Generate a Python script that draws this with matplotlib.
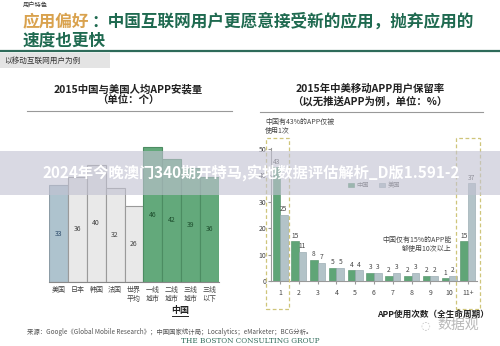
import matplotlib
matplotlib.use("Agg")
import matplotlib.pyplot as plt
from matplotlib.patches import Rectangle

plt.rcParams['font.family'] = ['Noto Sans CJK SC', 'DejaVu Sans']

# ---- data ----
left_cats = ['美国', '日本', '韩国', '法国', '世界\n平均', '一线\n城市', '二线\n城市', '三线\n城市', '三线\n以下']
left_vals = [33, 36, 40, 32, 26, 46, 42, 39, 36]
left_groups = ['us', 'other', 'other', 'other', 'other', 'cn', 'cn', 'cn', 'cn']

right_cats = ['1', '2', '3', '4', '5', '6', '7', '8', '9', '10', '11+']
china_vals = [43, 15, 8, 5, 4, 3, 2, 2, 2, 1, 15]
us_vals = [25, 11, 7, 5, 4, 3, 3, 3, 2, 2, 37]
right_yticks = [0, 10, 20, 30, 40, 50]

W, H = 500, 346
fig = plt.figure(figsize=(W / 100, H / 100), dpi=100)
fig.patch.set_facecolor('white')


def fx(x):
    return x / W


def fy(y):
    return 1 - y / H


def T(x, y, s, **kw):
    kw.setdefault('va', 'center')
    return fig.text(fx(x), fy(y), s, **kw)


def R(x0, y0, x1, y1, **kw):
    r = Rectangle((fx(x0), fy(y1)), fx(x1) - fx(x0), fy(y0) - fy(y1),
                  transform=fig.transFigure, **kw)
    fig.add_artist(r)
    return r


# ---- header ----
T(23, 6, '用户特色', fontsize=4.5, color='#333333')
T(23, 22, '应用偏好', fontsize=12, fontweight='bold', color='#d9a24e')
T(91, 22, '：中国互联网用户更愿意接受新的应用，抛弃应用的', fontsize=12,
  fontweight='bold', color='#1f6a50')
T(23, 41, '速度也更快', fontsize=12, fontweight='bold', color='#1f6a50')
fig.add_artist(plt.Line2D([0, 1], [fy(51), fy(51)], transform=fig.transFigure,
                          color='#2e6b5a', lw=1.6))
R(0, 53, 110, 68, facecolor='#e4e4e4', edgecolor='none')
T(4, 60.5, '以移动互联网用户为例', fontsize=5.5, style='italic', color='#333333')

# ---- left chart ----
T(128, 89, '2015中国与美国人均APP安装量', fontsize=7.5, fontweight='bold',
  ha='center', color='#222222')
T(128, 101, '（单位：个）', fontsize=7.5, fontweight='bold', ha='center', color='#222222')
fig.add_artist(plt.Line2D([fx(27), fx(232)], [fy(111), fy(111)],
                          transform=fig.transFigure, color='#999999', lw=0.8))

axL = fig.add_axes([fx(49), fy(282), (219 - 49) / W, 146.5 / H])
colors = {'us': '#aec3ce', 'other': '#e9e9e9', 'cn': '#63a97b'}
edges = {'us': '#8c9ca6', 'other': '#9a9a9a', 'cn': '#4c8c62'}
tcol = {'us': '#2b4a6a', 'other': '#444444', 'cn': '#1e4f2e'}
xs = list(range(len(left_vals)))
axL.bar(xs, left_vals, width=1.0,
        color=[colors[g] for g in left_groups],
        edgecolor=[edges[g] for g in left_groups], linewidth=0.8)
for x, v, g in zip(xs, left_vals, left_groups):
    axL.text(x, v / 2, str(v), ha='center', va='center', fontsize=5, color=tcol[g])
axL.set_xlim(-0.5, len(left_vals) - 0.5)
axL.set_ylim(0, 50)
axL.set_xticks(xs)
axL.set_xticklabels(left_cats, fontsize=5, color='#444444', linespacing=1.1)
axL.tick_params(axis='x', length=0, pad=3)
axL.set_yticks([])
for s in ['top', 'right', 'left']:
    axL.spines[s].set_visible(False)
axL.spines['bottom'].set_color('#888888')
axL.patch.set_alpha(0)
T(180, 311, '中国', fontsize=6.5, fontweight='bold', ha='center', color='#222222')
fig.add_artist(plt.Line2D([fx(172), fx(188)], [fy(316), fy(316)],
                          transform=fig.transFigure, color='#222222', lw=0.7))

# ---- right chart ----
T(370, 89, '2015年中美移动APP用户保留率', fontsize=7.5, fontweight='bold',
  ha='center', color='#222222')
T(370, 101, '（以无推送APP为例，单位：%）', fontsize=7.5, fontweight='bold',
  ha='center', color='#222222')
fig.add_artist(plt.Line2D([fx(260), fx(483)], [fy(112), fy(112)],
                          transform=fig.transFigure, color='#999999', lw=0.8))

axR = fig.add_axes([fx(271), fy(281), 206 / W, 133.3 / H])
rx = list(range(len(right_cats)))
bw = 0.4
axR.bar([x - bw / 2 for x in rx], china_vals, width=bw, color='#5fa577',
        edgecolor='#4c8c62', linewidth=0.4, label='中国')
axR.bar([x + bw / 2 for x in rx], us_vals, width=bw, color='#b3c3c8',
        edgecolor='#8fa2a8', linewidth=0.4, label='美国')
for x, c, u in zip(rx, china_vals, us_vals):
    axR.text(x - bw / 2, c + 0.6, str(c), ha='center', va='bottom', fontsize=4.8, color='#444444')
    axR.text(x + bw / 2, u + 0.6, str(u), ha='center', va='bottom', fontsize=4.8, color='#444444')
axR.set_xlim(-0.48, len(right_cats) - 0.52)
axR.set_ylim(0, 50.5)
axR.set_xticks(rx)
axR.set_xticklabels(right_cats, fontsize=5, color='#444444')
axR.tick_params(axis='x', length=2, color='#999999', pad=4)
axR.set_yticks(right_yticks)
axR.set_yticklabels([str(t) for t in right_yticks], fontsize=5, color='#444444')
axR.tick_params(axis='y', length=2, color='#999999', pad=1.5)
for s in ['top', 'right']:
    axR.spines[s].set_visible(False)
axR.spines['left'].set_color('#999999')
axR.spines['bottom'].set_color('#999999')
axR.patch.set_alpha(0)
leg = axR.legend(loc='upper center', bbox_to_anchor=(0.5, 0.79), ncol=2, fontsize=4.5,
                 frameon=False, handlelength=1.0, handleheight=0.5, columnspacing=1.5,
                 handletextpad=0.4)
for t in leg.get_texts():
    t.set_color('#555555')

# dashed highlight boxes
R(266, 138, 289, 309, fill=False, edgecolor='#cfc57a', linestyle=(0, (3, 2)), lw=0.9)
R(456, 138, 480, 309, fill=False, edgecolor='#cfc57a', linestyle=(0, (3, 2)), lw=0.9)

T(265, 122, '中国有43%的APP仅被', fontsize=5, style='italic', color='#444444')
T(265, 131, '使用1次', fontsize=5, style='italic', color='#444444')
T(452, 240, '中国仅有15%的APP能', fontsize=5, style='italic', color='#444444', ha='right')
T(452, 249, '够使用10次以上', fontsize=5, style='italic', color='#444444', ha='right')
T(377, 314, 'APP使用次数（全生命周期）', fontsize=6.2, fontweight='bold', color='#222222')

# ---- footer ----
T(27, 332, '来源：Google《Global Mobile Research》；中国国家统计局；Localytics；eMarketer；BCG分析。',
  fontsize=4.6, color='#555555')
T(250, 341, 'THE BOSTON CONSULTING GROUP', fontsize=5.2, family='DejaVu Serif',
  ha='center', color='#2e6b5a')
T(458, 325, '数据观', fontsize=10, ha='center', color='#b8b8b8')
T(425, 325, '◌', fontsize=8, ha='center', color='#c0c0c0', family='DejaVu Sans')

# ---- overlay banner ----
R(0, 151, 500, 195, facecolor='#c2c2d2', edgecolor='none', alpha=0.62, zorder=20)
T(251, 173, '2024年今晚澳门340期开特马,实地数据评估解析_D版1.591-2', fontsize=11,
  fontweight='bold', ha='center', color='white', zorder=21)

fig.savefig('out.png', dpi=100)
